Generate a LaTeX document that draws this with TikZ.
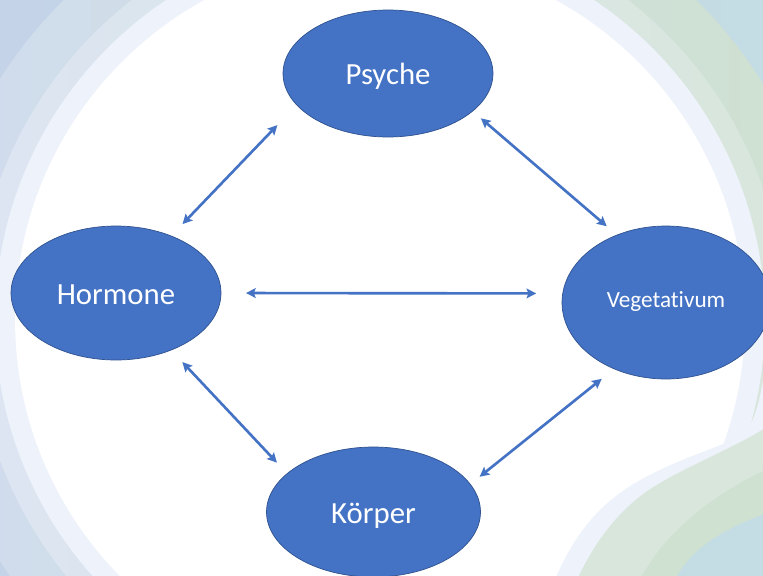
\documentclass[tikz,border=0pt]{standalone}
\usepackage{fontspec}
\setmainfont{Carlito}[Ligatures=NoCommon]
\usetikzlibrary{shapes.geometric, arrows.meta}
\definecolor{cus-blue}{RGB}{68, 114, 196}
\definecolor{cus-blue1}{RGB}{47, 82, 143}
\definecolor{cus-pale}{RGB}{238, 242, 250}
\definecolor{cus-sky}{RGB}{220, 229, 242}
\definecolor{cus-sky1}{RGB}{208, 220, 239}
\definecolor{cus-sky2}{RGB}{196, 211, 232}
\definecolor{cus-mint}{RGB}{217, 230, 220}
\definecolor{cus-green}{RGB}{207, 225, 208}
\definecolor{cus-teal}{RGB}{196, 220, 228}

\begin{document}
\begin{tikzpicture}[x=0.02cm, y=-0.02cm,
	bubble/.style={ellipse, draw=cus-blue1, fill=cus-blue, text=white, inner sep=0pt, outer sep=0pt,
		font=\fontsize{17.5}{21}\selectfont, text height=15.7pt, text depth=3.1pt},
	link/.style={{Stealth[length=5.5pt,width=5.5pt,inset=1pt]}-{Stealth[length=5.5pt,width=5.5pt,inset=1pt]},
		draw=cus-blue, line width=1.5pt}]
\useasboundingbox (0 ,0) rectangle (763 ,575);
\begin{scope}
	\clip (0 ,0) rectangle (763 ,575);
	\shade [left color=cus-sky2, right color=cus-teal] (0 ,0) rectangle (763 ,575);
	\shade [left color=cus-sky1, right color=cus-green] (380 ,320) circle [radius=9cm];
	\shade [left color=cus-sky, right color=cus-mint] (380 ,320) circle [radius=8.1cm];
	\fill [cus-pale] (380 ,320) circle [radius=7.7cm];
	\fill [white] (380 ,320) circle [radius=7.3cm];
	% wave bottom right
	\fill [cus-pale] (768 ,340) .. controls (762 ,400) and (755 ,425) .. (740 ,437)
		.. controls (700 ,455) and (640 ,470) .. (600 ,510)
		.. controls (580 ,530) and (565 ,555) .. (555 ,580) -- (770 ,580) -- cycle;
	\fill [cus-mint] (770 ,425) .. controls (740 ,445) and (690 ,465) .. (660 ,483)
		.. controls (630 ,500) and (600 ,530) .. (577 ,580) -- (770 ,580) -- cycle;
	\fill [cus-green] (770 ,468) .. controls (720 ,490) and (665 ,530) .. (640 ,580) -- (770 ,580) -- cycle;
	\fill [cus-teal] (770 ,512) .. controls (720 ,530) and (690 ,550) .. (675 ,580) -- (770 ,580) -- cycle;
\end{scope}

\node [bubble, minimum width=4.2cm, minimum height=2.54cm] (psyche) at (388 ,73.5) {Psyche};
\node [bubble, minimum width=4.2cm, minimum height=2.68cm] (hormone) at (116 ,293) {Hormone};
\node [bubble, minimum width=4.16cm, minimum height=3.06cm, font=\fontsize{13.2}{16}\selectfont,
	text height=9pt, text depth=2.8pt] (veget) at (666 ,302.5) {Vegetativum};
\node [bubble, minimum width=4.28cm, minimum height=2.6cm] (koerper) at (373.5 ,512) {Körper};

\draw [link, shorten <=0.33cm, shorten >=0.56cm] (hormone.46) -- (psyche.199);
\draw [link, shorten <=0.22cm, shorten >=0.27cm] (psyche.336) -- (veget.126);
\draw [link, shorten <=0.5cm, shorten >=0.53cm] (hormone.0) -- (veget.175);
\draw [link, shorten <=0.33cm, shorten >=0.3cm] (hormone.314) -- (koerper.156);
\draw [link, shorten <=0.24cm, shorten >=0.32cm] (koerper.16) -- (veget.232);
\end{tikzpicture}
\end{document}
